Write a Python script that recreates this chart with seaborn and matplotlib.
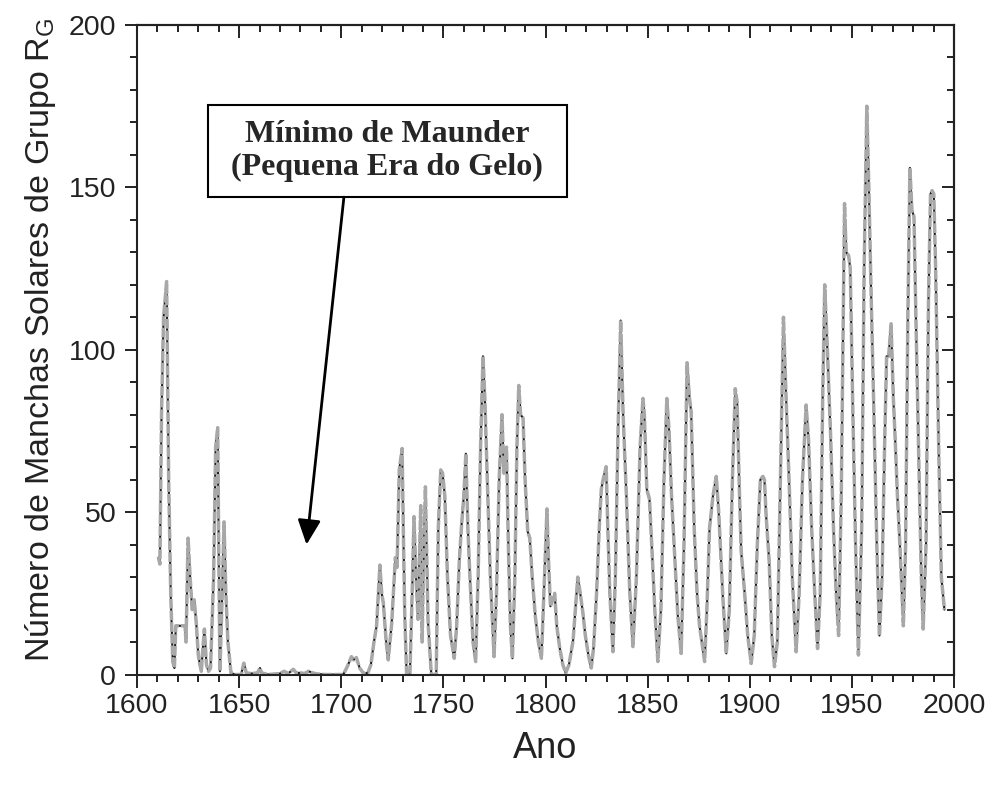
import matplotlib
matplotlib.use("Agg")
import matplotlib.pyplot as plt
from matplotlib.ticker import MultipleLocator
from matplotlib.patches import Rectangle
import seaborn as sns
import pandas as pd

# ---------------- data ----------------
years = [
    1610.5, 1611.2, 1612.0, 1613.0, 1614.5, 1615.5, 1616.5, 1617.5, 1618.3, 1619.0,
    1620.0, 1622.0, 1623.5, 1624.0, 1625.0, 1626.0, 1627.0, 1628.0, 1629.0, 1630.0,
    1630.8, 1631.5, 1632.0, 1633.0, 1634.0, 1635.0, 1636.0, 1637.5, 1638.5, 1639.5,
    1640.0, 1640.6, 1641.5, 1642.6, 1643.5, 1644.5, 1646.0, 1648.0, 1651.0, 1652.3,
    1653.5, 1656.0, 1659.0, 1660.2, 1661.0, 1664.0, 1670.0, 1672.0, 1674.0, 1676.5,
    1678.0, 1680.0, 1682.0, 1684.0, 1686.0, 1688.0, 1692.0, 1698.0, 1701.0, 1703.0,
    1705.0, 1706.0, 1707.4, 1709.0, 1711.0, 1713.0, 1714.5, 1716.0, 1717.3, 1718.9,
    1719.8, 1720.6, 1722.0, 1723.0, 1724.7, 1726.5, 1727.3, 1728.4, 1729.8, 1730.5,
    1731.1, 1732.0, 1733.6, 1734.5, 1735.6, 1736.6, 1737.6, 1738.9, 1739.6, 1740.3,
    1741.2, 1742.5, 1744.1, 1746.5, 1747.5, 1748.7, 1749.6, 1750.7, 1752.0, 1753.5,
    1755.3, 1756.5, 1757.8, 1758.9, 1760.0, 1761.0, 1762.0, 1763.0, 1764.5, 1765.8,
    1767.0, 1768.2, 1769.4, 1770.3, 1771.5, 1773.0, 1774.8, 1776.0, 1777.3, 1778.7,
    1779.6, 1780.9, 1781.8, 1782.8, 1783.8, 1785.0, 1786.0, 1786.9, 1787.8, 1789.0,
    1790.0, 1791.3, 1792.3, 1793.5, 1795.0, 1796.5, 1798.0, 1799.5, 1800.7, 1801.5,
    1802.4, 1803.5, 1804.5, 1805.5, 1807.0, 1808.5, 1809.9, 1811.5, 1813.5, 1815.8,
    1817.0, 1818.3, 1819.5, 1821.0, 1822.4, 1823.5, 1825.0, 1826.3, 1827.3, 1828.2,
    1829.7, 1830.5, 1831.5, 1833.0, 1834.2, 1835.5, 1836.8, 1838.0, 1839.6, 1841.2,
    1842.8, 1844.5, 1846.3, 1847.7, 1848.4, 1849.6, 1850.9, 1852.0, 1853.5, 1855.0,
    1856.5, 1858.0, 1859.4, 1860.5, 1861.7, 1863.1, 1864.8, 1866.4, 1867.8, 1869.3,
    1870.5, 1871.3, 1872.8, 1874.2, 1875.4, 1877.9, 1879.0, 1880.3, 1882.0, 1883.6,
    1884.8, 1886.9, 1888.5, 1890.0, 1891.5, 1892.9, 1893.8, 1895.0, 1895.8, 1897.5,
    1899.0, 1900.7, 1902.2, 1903.7, 1905.2, 1906.4, 1907.2, 1908.0, 1909.5, 1910.8,
    1912.1, 1913.5, 1915.0, 1916.5, 1917.8, 1919.4, 1920.8, 1922.7, 1924.2, 1925.8,
    1927.6, 1928.8, 1930.3, 1931.8, 1933.2, 1934.5, 1935.7, 1936.7, 1938.0, 1939.5,
    1941.0, 1942.3, 1943.5, 1944.8, 1945.8, 1946.4, 1947.2, 1948.4, 1949.2, 1950.5,
    1951.8, 1953.2, 1954.8, 1956.0, 1957.3, 1958.3, 1959.5, 1960.8, 1962.2, 1963.5,
    1964.8, 1966.0, 1967.0, 1968.0, 1969.2, 1970.3, 1971.1, 1972.3, 1973.5, 1975.2,
    1976.3, 1977.4, 1978.4, 1979.4, 1980.4, 1981.5, 1982.8, 1984.0, 1984.9, 1986.3,
    1987.5, 1988.5, 1989.3, 1990.1, 1991.0, 1992.5, 1993.8, 1995.3,
]
rg_values = [
    36, 34, 80, 110, 121, 60, 25, 4, 2, 15,
    15, 15, 15, 10, 42, 30, 20, 23, 16, 6,
    3, 1, 6, 14, 3, 1, 2, 30, 70, 76,
    40, 1, 20, 47, 25, 10, 0.5, 0, 0, 3.5,
    0.5, 0.3, 0.5, 2, 0.5, 0, 0.3, 1, 0.3, 1.6,
    0.5, 0.5, 0.3, 1, 0.5, 0.2, 0, 0, 0, 2.5,
    5.5, 4.5, 5.2, 2, 0.3, 0.5, 3, 10, 15, 33.7,
    25, 22, 10, 4.5, 15.8, 36, 33, 63, 69.6, 40,
    18, 0, 0, 20, 48.6, 30, 17, 52, 10, 35,
    57.8, 16, 0, 0, 45, 63, 62, 55, 30, 12,
    5, 15, 35, 46, 55, 68, 45, 30, 10, 4,
    30, 70, 98, 85, 60, 30, 5.5, 25, 60, 80,
    62, 70, 40, 15, 5, 30, 70, 89, 80, 79,
    60, 44, 42, 30, 18, 10, 5, 30, 51, 35,
    21, 23, 25, 15, 8, 3, 0.5, 3, 10.5, 30,
    25, 19, 12, 6, 2, 8, 25, 45, 57, 60,
    64, 45, 25, 7, 30, 75, 109, 80, 55, 26,
    8.6, 30, 70, 85, 80, 57, 54, 40, 20, 4,
    20, 60, 85, 75, 55, 38, 18, 6.5, 40, 96,
    85, 81, 45, 25, 15, 4, 20, 45, 55, 61,
    50, 23, 6.5, 20, 60, 88, 84, 55, 38, 25,
    12, 3.4, 12, 40, 60, 61, 60, 49, 35, 12,
    2.4, 10, 60, 110, 85, 57, 30, 7, 25, 60,
    83, 72, 45, 25, 8, 25, 85, 120, 100, 75,
    45, 25, 12, 55, 110, 145, 130, 129, 125, 80,
    40, 6, 45, 125, 175, 150, 115, 80, 40, 12,
    30, 70, 98, 98, 108, 85, 74, 55, 40, 15,
    40, 110, 156, 143, 141, 105, 65, 30, 14, 40,
    115, 148, 149, 148, 125, 70, 30, 20,
]

x_ticks = [1600, 1650, 1700, 1750, 1800, 1850, 1900, 1950, 2000]
y_ticks = [0, 50, 100, 150, 200]
x_label = "Ano"
y_label = r"Número de Manchas Solares de Grupo R$_\mathrm{G}$"
note_lines = ["Mínimo de Maunder", "(Pequena Era do Gelo)"]

df = pd.DataFrame({"ano": years, "rg": rg_values})

# ---------------- style ----------------
sns.set_style("ticks")
plt.rcParams["font.family"] = ["Liberation Sans", "DejaVu Sans"]
plt.rcParams["mathtext.fontset"] = "custom"
plt.rcParams["mathtext.rm"] = "Liberation Sans"
plt.rcParams["mathtext.it"] = "Liberation Sans:italic"
plt.rcParams["lines.scale_dashes"] = False

fig = plt.figure(figsize=(9.95, 7.89), dpi=100)
ax = fig.add_axes([0.1377, 0.1451, 0.8211, 0.8232])

# black base line + wider gray dashed overlay (gray line with black flecks)
sns.lineplot(data=df, x="ano", y="rg", ax=ax, color="#1a1a1a", linewidth=1.5,
             estimator=None, sort=False)
sns.lineplot(data=df, x="ano", y="rg", ax=ax, color="#a8a8a8", linewidth=2.5,
             estimator=None, sort=False)
ax.lines[-1].set_dashes((7.0, 1.4))

ax.set_xlim(1600, 2000)
ax.set_ylim(0, 200)
ax.set_xticks(x_ticks)
ax.set_yticks(y_ticks)
ax.xaxis.set_minor_locator(MultipleLocator(10))
ax.yaxis.set_minor_locator(MultipleLocator(10))

for s in ax.spines.values():
    s.set_visible(True)
    s.set_linewidth(1.5)
    s.set_color("#222222")

ax.tick_params(which="both", direction="out", top=False, right=False,
               color="#222222", width=1.4)
ax.tick_params(which="major", length=9, labelsize=20.5, labelcolor="#222222")
ax.tick_params(axis="x", which="major", pad=4)
ax.tick_params(axis="y", which="major", pad=6)
ax.tick_params(which="minor", length=5)

# mirrored inward ticks on top and right
secx = ax.secondary_xaxis("top")
secx.set_xticks(x_ticks)
secx.xaxis.set_minor_locator(MultipleLocator(10))
secx.tick_params(which="both", direction="in", labeltop=False, color="#222222", width=1.4)
secx.tick_params(which="major", length=9)
secx.tick_params(which="minor", length=5)
secx.spines["top"].set_linewidth(1.5)

secy = ax.secondary_yaxis("right")
secy.set_yticks(y_ticks)
secy.yaxis.set_minor_locator(MultipleLocator(10))
secy.tick_params(which="both", direction="in", labelright=False, color="#222222", width=1.4)
secy.tick_params(which="major", length=9)
secy.tick_params(which="minor", length=5)
secy.spines["right"].set_linewidth(1.5)

ax.set_xlabel(x_label, fontsize=26, labelpad=9, color="#222222")
ax.set_ylabel(y_label, fontsize=24.5, labelpad=6, color="#222222")
ax.yaxis.set_label_coords(-0.097, 0.515)

# annotation box
ax.add_patch(Rectangle((1634.7, 147.0), 175.7, 28.4, facecolor="white",
                       edgecolor="black", linewidth=1.5, zorder=5))
ax.text(1722.6, 161.2, "\n".join(note_lines), ha="center", va="center",
        fontsize=23, fontweight="bold", family=["Liberation Serif", "DejaVu Serif"],
        linespacing=1.2, zorder=6)
ax.annotate("", xy=(1683.0, 40.0), xytext=(1701.3, 147.0),
            arrowprops=dict(arrowstyle="-|>,head_length=0.75,head_width=0.35",
                            color="black", lw=2.0, shrinkA=0, shrinkB=0,
                            mutation_scale=20), zorder=6)

fig.savefig("out.png", dpi=100)
